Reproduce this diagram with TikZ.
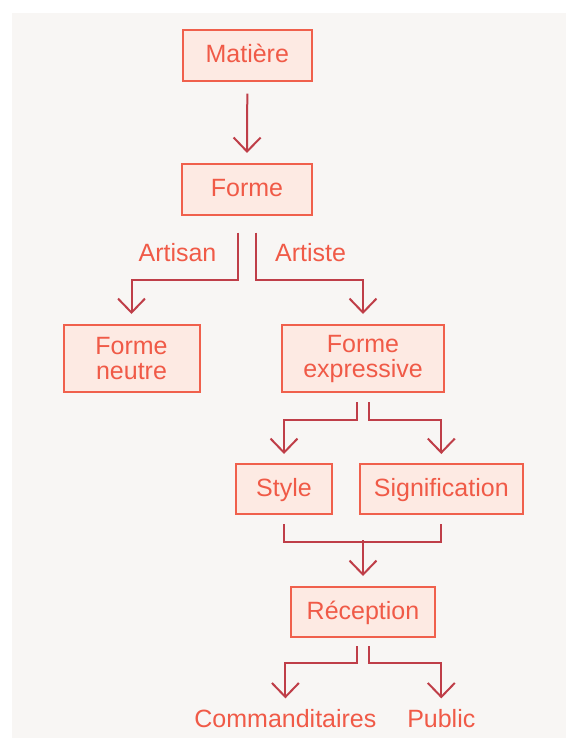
\documentclass[tikz,border=0pt]{standalone}
\usepackage{fontspec}
\setmainfont{Liberation Sans}
\usetikzlibrary{arrows.meta}

\definecolor{gris}{HTML}{F8F6F4}
\definecolor{bordure}{HTML}{F0604C}
\definecolor{fond}{HTML}{FDEAE3}
\definecolor{texte}{HTML}{F05A47}
\definecolor{trait}{HTML}{BF3E48}

\tikzset{
  boite/.style={draw=bordure, fill=fond, line width=2pt, text=texte, inner sep=0pt,
    font=\fontsize{25}{25}\selectfont, align=center},
  unligne/.style={text height=18pt, text depth=3pt},
  etiquette/.style={text=texte, inner sep=0pt, font=\fontsize{25}{25}\selectfont},
  lien/.style={draw=trait, line width=2pt},
  fleche/.style={lien, -{Straight Barb[length=14pt,width=27pt]}}
}

\begin{document}
\begin{tikzpicture}[x=1pt,y=1pt]
\useasboundingbox (0,0) rectangle (566,-738);
\fill[gris] (11.5,-13) rectangle (566,-738);

\node[boite,unligne,minimum width=128.6pt,minimum height=50.4pt] (matiere) at (247.3,-55.5) {Matière};
\node[boite,unligne,minimum width=130pt,minimum height=50.7pt] (forme) at (247,-189.3) {Forme};
\node[boite,minimum width=136pt,minimum height=67pt] (neutre) at (131.5,-358.5) {Forme\\neutre};
\node[boite,minimum width=162pt,minimum height=67pt] (expressive) at (363,-358.5) {Forme\\expressive};
\node[boite,unligne,minimum width=96pt,minimum height=50pt] (style) at (284,-489) {Style};
\node[boite,unligne,minimum width=163.5pt,minimum height=50pt] (signif) at (441.3,-489) {Signification};
\node[boite,unligne,minimum width=144pt,minimum height=50pt] (reception) at (363,-612) {Réception};
\node[etiquette,anchor=base] (comm) at (285.4,-727.7) {Commanditaires};
\node[etiquette,anchor=base] (public) at (441.3,-727.7) {Public};

\node[etiquette,anchor=base east] (artisan) at (216.6,-261.7) {Artisan};
\node[etiquette,anchor=base west] (artiste) at (275,-261.7) {Artiste};

\coordinate (jonction) at ([yshift=46pt]reception.north);

\draw[fleche] ([yshift=-12pt]matiere.south) -- ([yshift=10pt]forme.north);
\draw[fleche] ([xshift=-9pt,yshift=-17pt]forme.south) -- ++(0,-47) -| ([yshift=10pt]neutre.north);
\draw[fleche] ([xshift=9pt,yshift=-17pt]forme.south) -- ++(0,-47) -| ([yshift=10pt]expressive.north);
\draw[fleche] ([xshift=-6pt,yshift=-9pt]expressive.south) -- ++(0,-18) -| ([yshift=9pt]style.north);
\draw[fleche] ([xshift=6pt,yshift=-9pt]expressive.south) -- ++(0,-18) -| ([yshift=9pt]signif.north);
\draw[lien] ([yshift=-9pt]style.south) -- ++(0,-18) -| ([yshift=-9pt]signif.south);
\draw[fleche] (jonction) -- ([yshift=10pt]reception.north);
\draw[fleche] ([xshift=-6pt,yshift=-8pt]reception.south) -- ++(0,-17) -| ([yshift=11pt]comm.north);
\draw[fleche] ([xshift=6pt,yshift=-8pt]reception.south) -- ++(0,-17) -| ([yshift=11pt]public.north);

\end{tikzpicture}
\end{document}
